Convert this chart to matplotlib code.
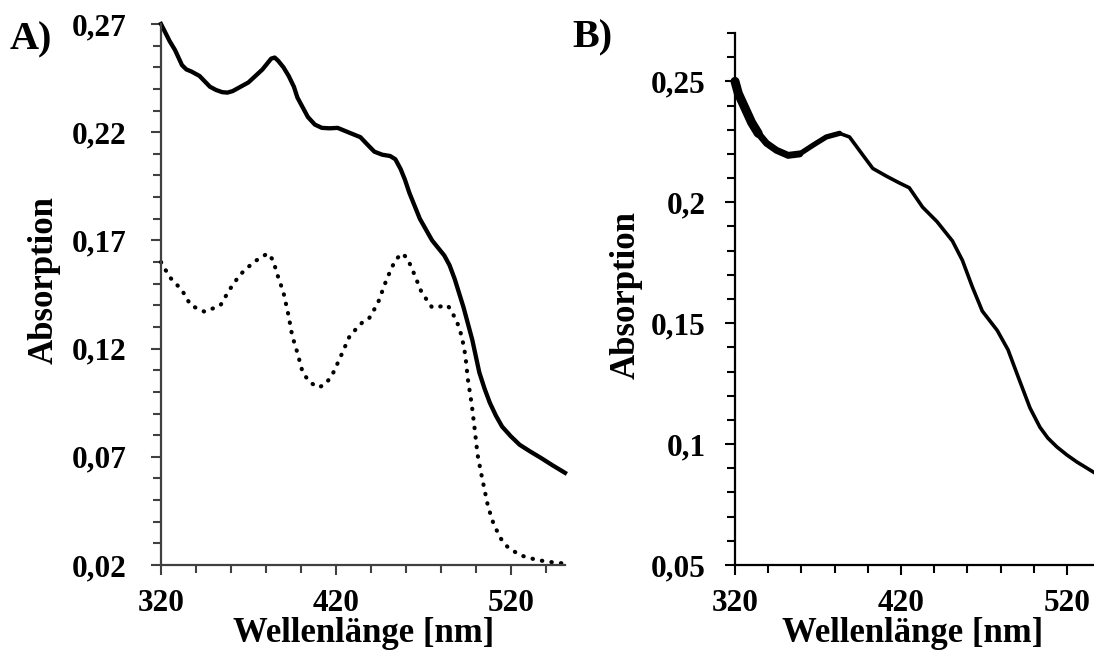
import matplotlib
matplotlib.use('Agg')
import matplotlib.pyplot as plt
from matplotlib.ticker import FixedLocator, MultipleLocator

plt.rcParams['font.family'] = ['Liberation Serif', 'DejaVu Serif']
plt.rcParams['font.weight'] = 'bold'

# Panel A: solid spectrum
a_solid_nm = [320, 322.5, 325, 328, 332, 334.5, 337.5, 342, 345, 348, 351.5, 355, 358, 361,
              365.5, 370, 374, 378, 381, 383, 385, 387, 390, 393, 396, 398, 401, 404, 408,
              412, 416.5, 421, 427, 434, 438, 442, 446.5, 451, 454, 457, 459.5, 462, 465,
              468, 471.5, 475, 478.5, 482, 485, 488, 490.5, 493, 495.5, 498, 500, 502, 505,
              508, 511.5, 515, 520, 525, 531, 537, 544, 551]
a_solid_abs = [0.270, 0.266, 0.262, 0.258, 0.251, 0.249, 0.248, 0.246, 0.2435, 0.241, 0.2395,
               0.2385, 0.2383, 0.239, 0.241, 0.243, 0.246, 0.249, 0.252, 0.254, 0.2545, 0.253,
               0.250, 0.246, 0.241, 0.236, 0.2315, 0.227, 0.2235, 0.222, 0.2218, 0.222, 0.220,
               0.2177, 0.2143, 0.211, 0.2096, 0.209, 0.2075, 0.203, 0.198, 0.192, 0.186,
               0.180, 0.175, 0.170, 0.1665, 0.163, 0.1585, 0.152, 0.1455, 0.139, 0.1315,
               0.124, 0.1165, 0.109, 0.1015, 0.095, 0.089, 0.084, 0.0795, 0.0756, 0.0725,
               0.0696, 0.066, 0.0626]

# Panel A: dotted spectrum
a_dot_nm = [320, 325, 332, 337, 345, 354, 359, 365, 373, 381, 384, 387, 390, 393, 395, 398,
            401, 405, 410, 414, 418, 422, 428, 435, 439, 444, 449, 454, 458, 461, 464, 469,
            475, 480, 484, 489, 492, 494, 495.5, 497.7, 499.4, 501, 503, 505, 507, 510, 514,
            518, 525, 535, 546, 551]
a_dot_abs = [0.160, 0.153, 0.147, 0.140, 0.137, 0.140, 0.147, 0.154, 0.160, 0.164, 0.161,
             0.153, 0.146, 0.135, 0.126, 0.118, 0.109, 0.1045, 0.102, 0.1035, 0.108, 0.115,
             0.126, 0.132, 0.134, 0.141, 0.152, 0.161, 0.164, 0.1615, 0.156, 0.146, 0.139,
             0.1395, 0.140, 0.133, 0.1256, 0.117, 0.1056, 0.094, 0.0825, 0.071, 0.0626,
             0.0547, 0.047, 0.0394, 0.0325, 0.0285, 0.0246, 0.0223, 0.021, 0.0207]

# Panel B spectrum
b_nm = [320, 322, 326, 330, 334, 339, 345, 352, 359, 367, 375, 383, 389, 396.5, 403, 411.5,
        419, 425, 433, 441.7, 451, 457, 463, 469, 478, 484.5, 490.5, 497.7, 503.7, 508.5,
        514, 520, 526, 536]
b_abs = [0.250, 0.245, 0.239, 0.233, 0.2285, 0.2244, 0.2215, 0.2194, 0.220, 0.2236, 0.227,
         0.2285, 0.227, 0.220, 0.214, 0.2107, 0.208, 0.206, 0.198, 0.192, 0.184, 0.176,
         0.165, 0.155, 0.147, 0.139, 0.128, 0.115, 0.107, 0.1025, 0.0988, 0.0955, 0.0926,
         0.0884]

a_xticks = [320, 420, 520]
a_yticks = [0.02, 0.07, 0.12, 0.17, 0.22, 0.27]
a_ylabels = ['0,02', '0,07', '0,12', '0,17', '0,22', '0,27']
b_xticks = [320, 420, 520]
b_yticks = [0.05, 0.10, 0.15, 0.20, 0.25]
b_ylabels = ['0,05', '0,1', '0,15', '0,2', '0,25']

W, H = 1094, 650
fig = plt.figure(figsize=(W / 100, H / 100), dpi=100)

def px_axes(x0, x1, y0, y1):
    return fig.add_axes([x0 / W, 1 - y1 / H, (x1 - x0) / W, (y1 - y0) / H])

def style(ax, color, ypad):
    for s in ['top', 'right']:
        ax.spines[s].set_visible(False)
    for s in ['left', 'bottom']:
        ax.spines[s].set_color(color)
        ax.spines[s].set_linewidth(1.6)
    ax.tick_params(which='major', direction='out', length=7, width=1.5, color=color,
                   labelsize=22.5)
    ax.tick_params(which='minor', direction='out', length=5.5, width=1.5, color=color)
    ax.tick_params(axis='y', which='major', pad=ypad)
    ax.tick_params(axis='x', which='major', pad=10)
    ax.xaxis.set_minor_locator(MultipleLocator(20))
    ax.yaxis.set_minor_locator(MultipleLocator(0.01))

# ---- A ----
axA = px_axes(161, 565, 24, 565)
axA.plot(a_solid_nm, a_solid_abs, color='black', lw=3.1, solid_joinstyle='round',
         clip_on=False)
axA.plot(a_dot_nm, a_dot_abs, color='black', lw=3.0, linestyle=(0, (0.1, 2.2)),
         dash_capstyle='round', clip_on=False)
axA.set_xlim(320, 551)
axA.set_ylim(0.02, 0.27)
axA.xaxis.set_major_locator(FixedLocator(a_xticks))
axA.set_xticklabels([str(t) for t in a_xticks])
axA.yaxis.set_major_locator(FixedLocator(a_yticks))
axA.set_yticklabels(a_ylabels)
style(axA, '#404040', 18)

# ---- B ----
axB = px_axes(735, 1094, 33, 565)
# noisy start of the spectrum drawn thicker
axB.plot(b_nm[:5], b_abs[:5], color='black', lw=6.5, solid_capstyle='round', clip_on=False)
axB.plot(b_nm[4:9], b_abs[4:9], color='black', lw=5, solid_capstyle='round', clip_on=False)
axB.plot(b_nm[8:12], b_abs[8:12], color='black', lw=3.8, solid_capstyle='round', clip_on=False)
axB.plot(b_nm[11:], b_abs[11:], color='black', lw=2.6, solid_joinstyle='round', clip_on=False)
axB.set_xlim(320, 536.3)
axB.set_ylim(0.05, 0.27)
axB.xaxis.set_major_locator(FixedLocator(b_xticks))
axB.set_xticklabels([str(t) for t in b_xticks])
axB.yaxis.set_major_locator(FixedLocator(b_yticks))
axB.set_yticklabels(b_ylabels)
style(axB, 'black', 14)

# labels
fig.text(10 / W, 1 - 40 / H, 'A)', fontsize=29, fontweight='bold', ha='left', va='center')
fig.text(572 / W, 1 - 38 / H, 'B)', fontsize=29, fontweight='bold', ha='left', va='center')
fig.text(44 / W, 1 - 280 / H, 'Absorption', fontsize=25, fontweight='bold', rotation=90,
         ha='center', va='center')
fig.text(626 / W, 1 - 295 / H, 'Absorption', fontsize=25, fontweight='bold', rotation=90,
         ha='center', va='center')
fig.text(364 / W, 1 - 642 / H, 'Wellenlänge [nm]', fontsize=25, fontweight='bold',
         ha='center', va='baseline')
fig.text(913 / W, 1 - 642 / H, 'Wellenlänge [nm]', fontsize=25, fontweight='bold',
         ha='center', va='baseline')

fig.savefig('out.png', dpi=100)
